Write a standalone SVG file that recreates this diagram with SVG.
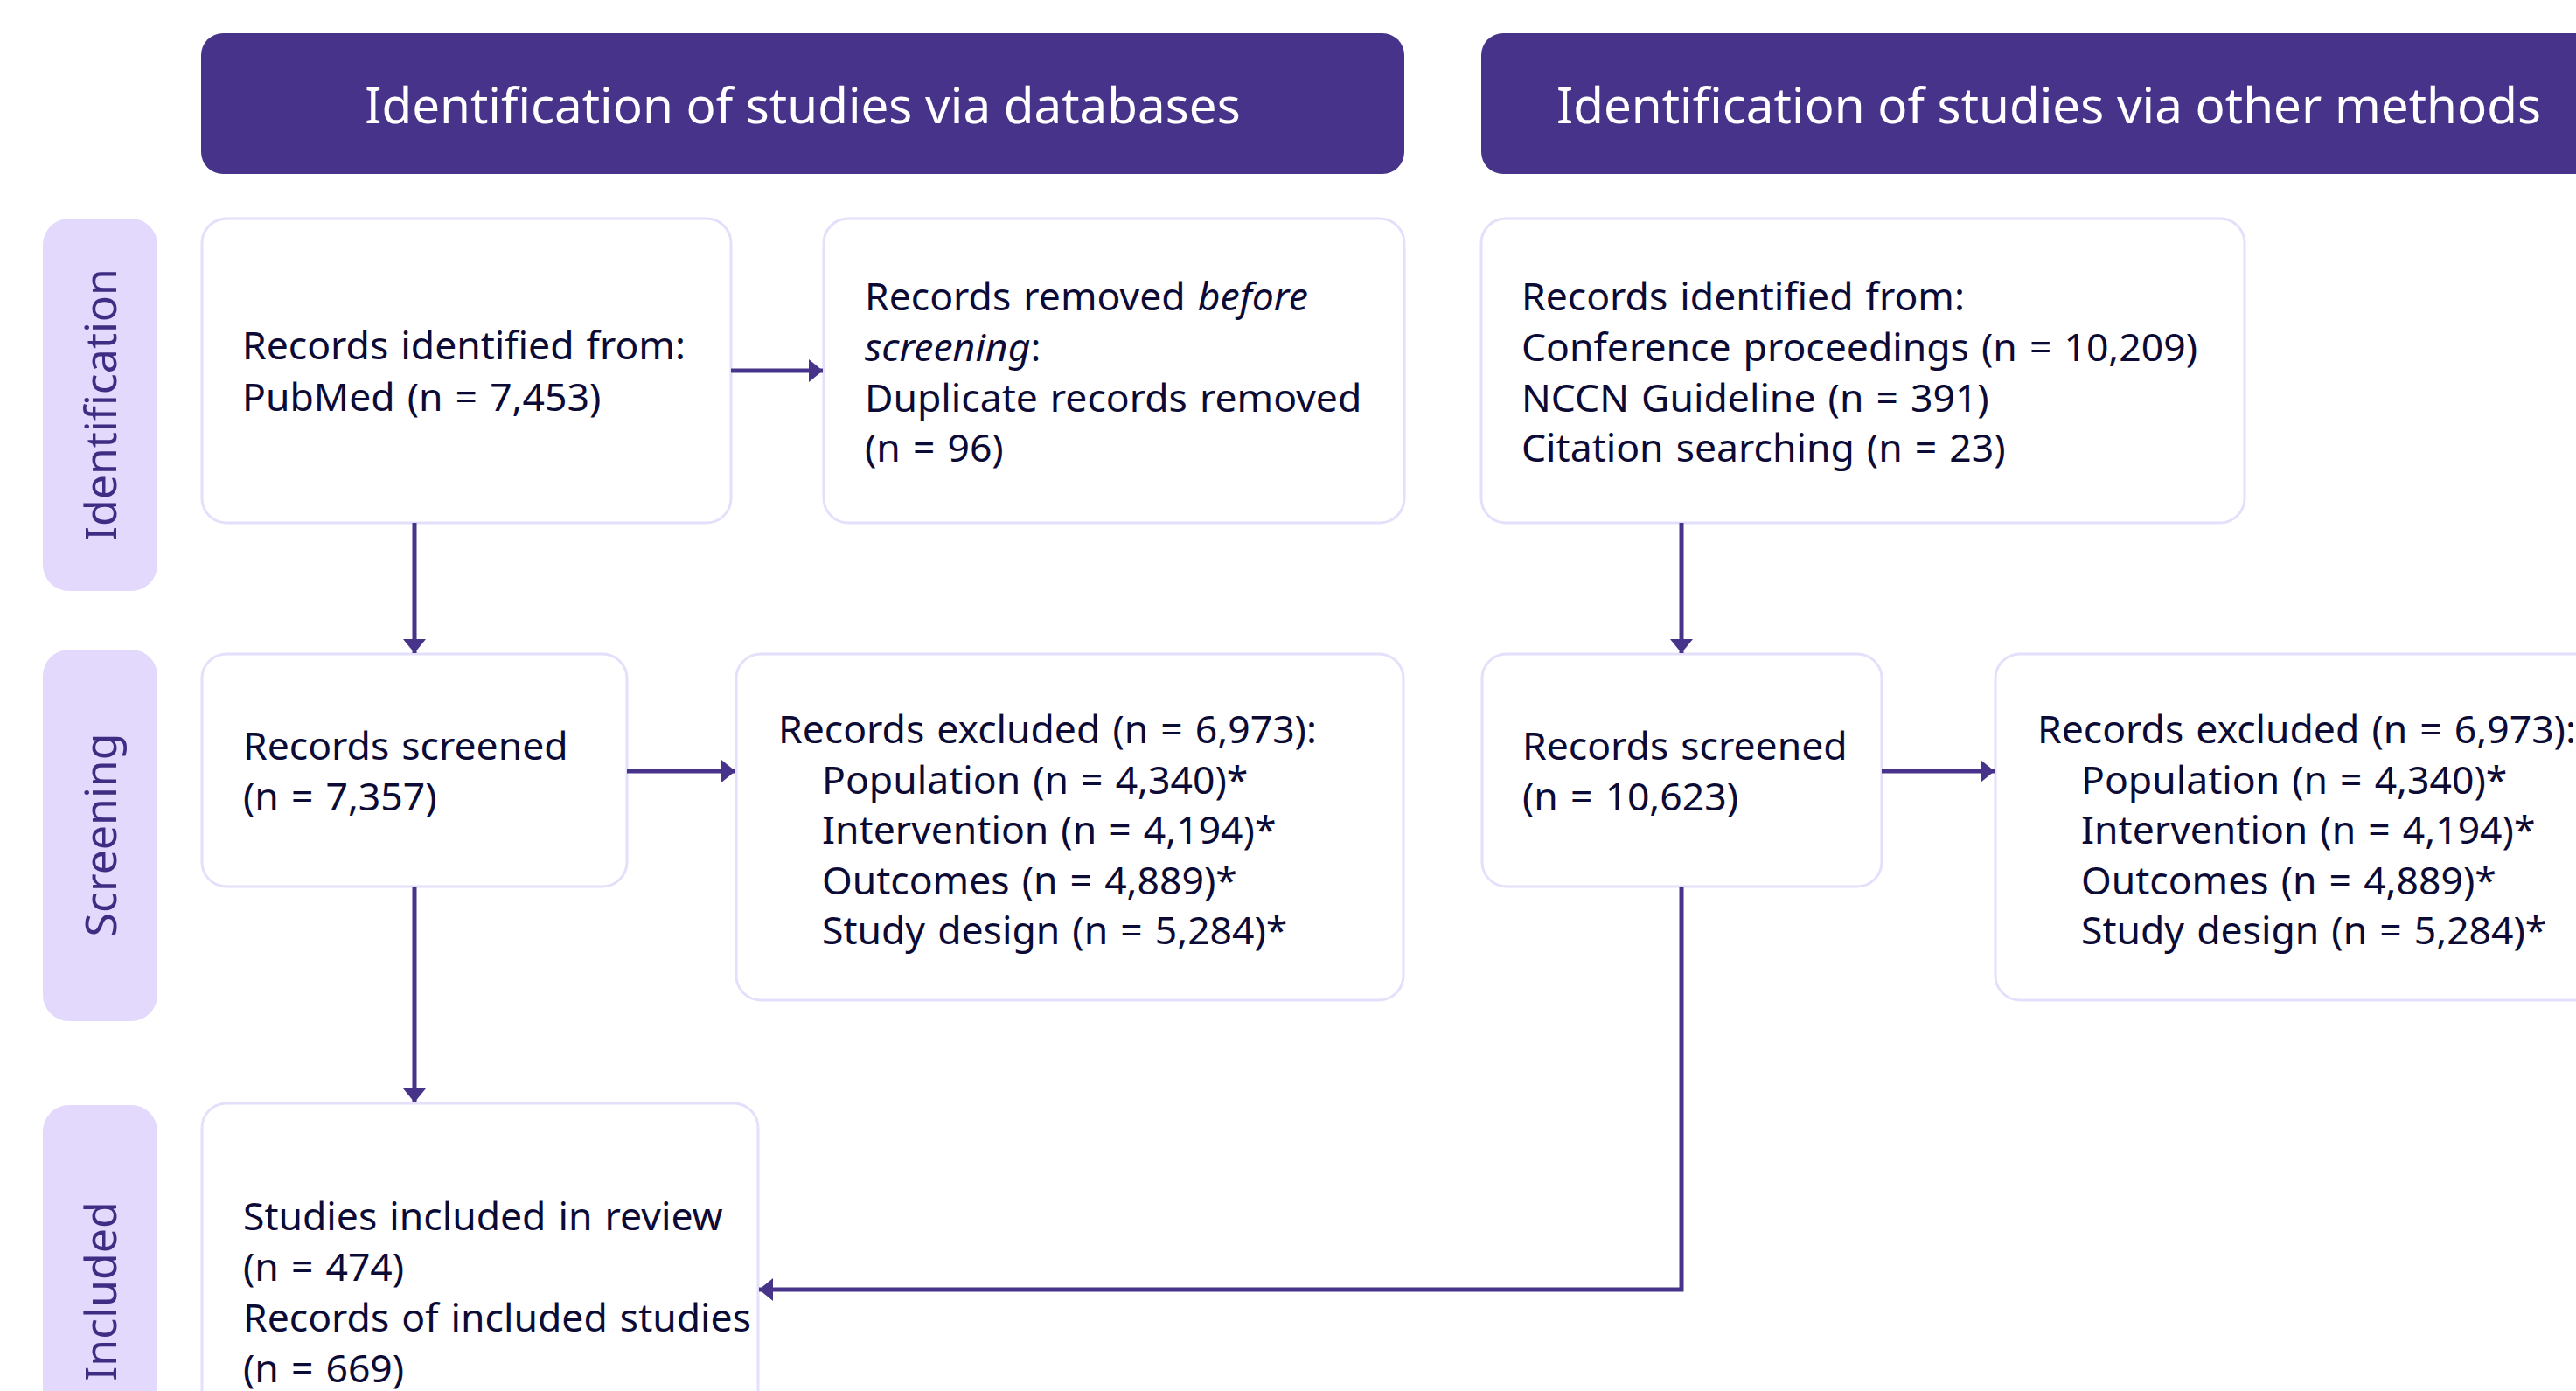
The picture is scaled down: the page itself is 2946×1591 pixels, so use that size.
<svg xmlns="http://www.w3.org/2000/svg" width="2946" height="1591" viewBox="0 0 2946 1591">
<defs>
<style>
.hdr{fill:#47338a}
.hdrt{fill:#ffffff;font-family:"Noto Sans","Open Sans",sans-serif;font-size:56.5px;text-anchor:middle}
.side{fill:#e2d9fd}
.sidet{fill:#3f2d83;font-family:"Noto Sans","Open Sans",sans-serif;font-size:50px;text-anchor:middle}
.box{fill:#ffffff;stroke:#e4e0fb;stroke-width:3}
.t{fill:#0c0b36;font-family:"Noto Sans","Open Sans",sans-serif;font-size:44.5px;word-spacing:2.5px}
.it{font-style:italic}
.c{fill:none;stroke:#47338a;stroke-width:5}
</style>
<marker id="ah" markerUnits="userSpaceOnUse" markerWidth="17" markerHeight="26" refX="16" refY="13" orient="auto">
<path d="M0,0 L16,13 L0,26 z" fill="#47338a"/>
</marker>
</defs>
<rect width="2946" height="1591" fill="#ffffff"/>

<g id="header-databases">
<rect class="hdr" x="230" y="38" width="1376" height="161" rx="25"/>
<text class="hdrt" x="918" y="141">Identification of studies via databases</text>
</g>
<g id="header-other">
<rect class="hdr" x="1694" y="38" width="1300" height="161" rx="25"/>
<text class="hdrt" x="2343" y="141">Identification of studies via other methods</text>
</g>

<g id="stage-identification">
<rect class="side" x="49" y="250" width="131" height="426" rx="30"/>
<text class="sidet" transform="translate(133,463) rotate(-90)">Identification</text>
</g>
<g id="stage-screening">
<rect class="side" x="49" y="743" width="131" height="425" rx="30"/>
<text class="sidet" transform="translate(133,955) rotate(-90)">Screening</text>
</g>
<g id="stage-included">
<rect class="side" x="49" y="1264" width="131" height="426" rx="30"/>
<text class="sidet" transform="translate(133,1477) rotate(-90)">Included</text>
</g>

<g id="node-db-identified">
<rect class="box" x="231" y="250" width="605" height="348" rx="28"/>
<text class="t"><tspan x="277" y="411">Records identified from:</tspan><tspan x="277" y="470">PubMed (n = 7,453)</tspan></text>
</g>
<g id="node-db-removed">
<rect class="box" x="942" y="250" width="664" height="348" rx="28"/>
<text class="t"><tspan x="989" y="355">Records removed <tspan class="it">before</tspan></tspan><tspan x="989" y="413"><tspan class="it">screening</tspan>:</tspan><tspan x="989" y="471">Duplicate records removed</tspan><tspan x="989" y="528">(n = 96)</tspan></text>
</g>
<g id="node-other-identified">
<rect class="box" x="1694" y="250" width="873" height="348" rx="28"/>
<text class="t"><tspan x="1740" y="355">Records identified from:</tspan><tspan x="1740" y="413">Conference proceedings (n = 10,209)</tspan><tspan x="1740" y="471">NCCN Guideline (n = 391)</tspan><tspan x="1740" y="528">Citation searching (n = 23)</tspan></text>
</g>
<g id="node-db-screened">
<rect class="box" x="231" y="748" width="486" height="266" rx="28"/>
<text class="t"><tspan x="278" y="869">Records screened</tspan><tspan x="278" y="927">(n = 7,357)</tspan></text>
</g>
<g id="node-db-excluded">
<rect class="box" x="842" y="748" width="763" height="396" rx="28"/>
<text class="t"><tspan x="890" y="850">Records excluded (n = 6,973):</tspan><tspan x="940" y="907.5">Population (n = 4,340)*</tspan><tspan x="940" y="965">Intervention (n = 4,194)*</tspan><tspan x="940" y="1022.5">Outcomes (n = 4,889)*</tspan><tspan x="940" y="1080">Study design (n = 5,284)*</tspan></text>
</g>
<g id="node-other-screened">
<rect class="box" x="1695" y="748" width="457" height="266" rx="28"/>
<text class="t"><tspan x="1741" y="869">Records screened</tspan><tspan x="1741" y="927">(n = 10,623)</tspan></text>
</g>
<g id="node-other-excluded">
<rect class="box" x="2282" y="748" width="763" height="396" rx="28"/>
<text class="t"><tspan x="2330" y="850">Records excluded (n = 6,973):</tspan><tspan x="2380" y="907.5">Population (n = 4,340)*</tspan><tspan x="2380" y="965">Intervention (n = 4,194)*</tspan><tspan x="2380" y="1022.5">Outcomes (n = 4,889)*</tspan><tspan x="2380" y="1080">Study design (n = 5,284)*</tspan></text>
</g>
<g id="node-included">
<rect class="box" x="231" y="1262" width="636" height="430" rx="28"/>
<text class="t"><tspan x="278" y="1407">Studies included in review</tspan><tspan x="278" y="1465">(n = 474)</tspan><tspan x="278" y="1523">Records of included studies</tspan><tspan x="278" y="1581">(n = 669)</tspan></text>
</g>

<g id="connectors">
<line class="c" x1="836" y1="424" x2="941" y2="424" marker-end="url(#ah)"/>
<line class="c" x1="474" y1="598" x2="474" y2="747" marker-end="url(#ah)"/>
<line class="c" x1="717" y1="882" x2="841" y2="882" marker-end="url(#ah)"/>
<line class="c" x1="474" y1="1014" x2="474" y2="1261" marker-end="url(#ah)"/>
<line class="c" x1="1923" y1="598" x2="1923" y2="747" marker-end="url(#ah)"/>
<line class="c" x1="2152" y1="882" x2="2281" y2="882" marker-end="url(#ah)"/>
<path class="c" d="M1923,1014 V1475 H868" marker-end="url(#ah)"/>
</g>
</svg>
